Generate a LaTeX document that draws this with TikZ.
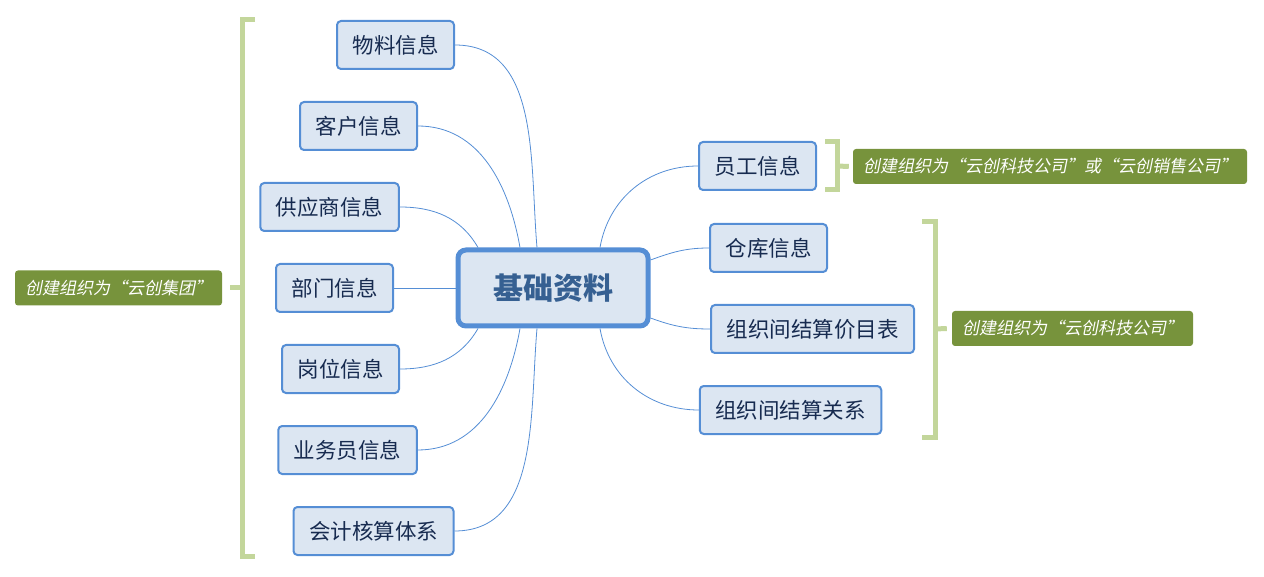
\documentclass[tikz,border=0pt]{standalone}
\usepackage{fontspec}
\setmainfont{Noto Sans CJK SC}
\newfontfamily\noteit[FakeSlant=0.2]{Noto Sans CJK SC}
\usetikzlibrary{positioning,calc}
\definecolor{boxfill}{HTML}{DCE6F2}
\definecolor{boxline}{HTML}{558ED5}
\definecolor{boxtext}{HTML}{172B50}
\definecolor{roottext}{HTML}{366092}
\definecolor{notefill}{HTML}{77933C}
\definecolor{braceline}{HTML}{C3D69B}
\tikzset{
  box/.style   = {draw=boxline, line width=2pt, rounded corners=4pt, fill=boxfill,
                  text=boxtext, font=\fontsize{21.5}{24}\selectfont,
                  minimum height=48pt, inner xsep=15.5pt},
  rootbox/.style = {draw=boxline, line width=5pt, rounded corners=8pt, fill=boxfill,
                  text=roottext, font=\fontsize{30}{34}\selectfont\bfseries,
                  minimum width=190pt, minimum height=76pt},
  note/.style  = {fill=notefill, rounded corners=3pt, text=white,
                  font=\fontsize{17}{20}\selectfont\noteit,
                  minimum height=35pt, inner xsep=10pt},
  conn/.style  = {draw=boxline, line width=0.8pt},
  brace/.style = {draw=braceline, line width=5pt},
}
\begin{document}
\begin{tikzpicture}[x=1pt,y=1pt]
  \useasboundingbox (0,0) rectangle (1264,-577);
  \node[rootbox] (jichu) at (553,-288) {基础资料};
  % left side
  \node[box] (wuliao)   at (395.5,-45)  {物料信息};
  \node[box] (kehu)     at (358.5,-126) {客户信息};
  \node[box] (gongying) at (329.5,-207) {供应商信息};
  \node[box] (bumen)    at (334.5,-288) {部门信息};
  \node[box] (gangwei)  at (340.5,-369) {岗位信息};
  \node[box] (yewu)     at (347.5,-450) {业务员信息};
  \node[box] (kuaiji)   at (373.5,-531) {会计核算体系};
  % right side
  \node[box] (yuangong) at (757.5,-166) {员工信息};
  \node[box] (cangku)   at (768.5,-248) {仓库信息};
  \node[box] (jiamu)    at (812.5,-329) {组织间结算价目表};
  \node[box] (guanxi)   at (790.5,-410) {组织间结算关系};
  % notes
  \node[note] (jituan)  at (118.5,-288) {创建组织为“云创集团”};
  \node[note] (huoze)   at (1050,-166.5) {创建组织为“云创科技公司”或“云创销售公司”};
  \node[note] (keji)    at (1072.5,-328.5) {创建组织为“云创科技公司”};
  % connectors
  \draw[conn] (wuliao.east)   to[out=0,in=95]   ([xshift=-16pt]jichu.north);
  \draw[conn] (kehu.east)     to[out=0,in=100]  ([xshift=-33pt]jichu.north);
  \draw[conn] (gongying.east) to[out=0,in=120]  ([xshift=-75pt]jichu.north);
  \draw[conn] (bumen.east) -- (jichu.west);
  \draw[conn] (gangwei.east)  to[out=0,in=-120] ([xshift=-75pt]jichu.south);
  \draw[conn] (yewu.east)     to[out=0,in=-100] ([xshift=-33pt]jichu.south);
  \draw[conn] (kuaiji.east)   to[out=0,in=-95]  ([xshift=-16pt]jichu.south);
  \draw[conn] (yuangong.west) to[out=180,in=80]  ([xshift=47pt]jichu.north);
  \draw[conn] (cangku.west)   to[out=180,in=20]  ([yshift=28pt]jichu.east);
  \draw[conn] (jiamu.west)    to[out=180,in=-20] ([yshift=-30pt]jichu.east);
  \draw[conn] (guanxi.west)   to[out=180,in=-80] ([xshift=47pt]jichu.south);
  % brackets
  \coordinate (lb) at (242,-288);
  \coordinate (sb) at (837,-166);
  \coordinate (rb) at (935,-329);
  \draw[brace] (255,-20) -- (242,-20) -- (242,-556) -- (255,-556);
  \draw[brace] (lb) -- ([xshift=8pt]jituan.east);
  \draw[brace] (825,-142) -- (837,-142) -- (837,-190) -- (825,-190);
  \draw[brace] (sb) -- ([xshift=-4pt]huoze.west);
  \draw[brace] (922,-222) -- (935,-222) -- (935,-437) -- (922,-437);
  \draw[brace] (rb) -- ([xshift=-5pt]keji.west);
\end{tikzpicture}
\end{document}
